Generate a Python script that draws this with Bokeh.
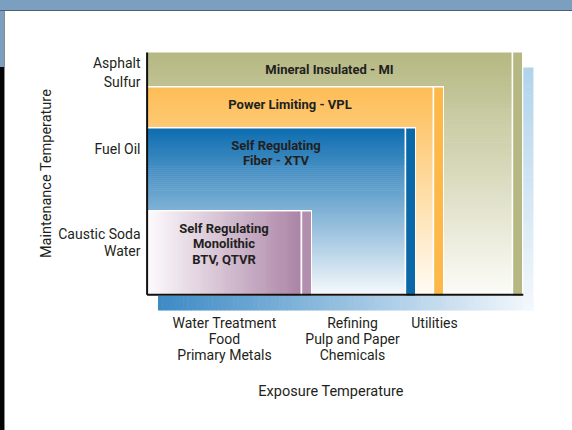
import numpy as np
from bokeh.plotting import figure
from bokeh.models import Range1d, FixedTicker, Div
from bokeh.layouts import column, row
from bokeh.core.properties import value
from bokeh.embed import file_html
from bokeh.resources import INLINE

# ---------------- data (chart units, origin at the axes corner) ----------------
products = ["Mineral Insulated - MI", "Power Limiting - VPL",
            "Self Regulating\nFiber - XTV", "Self Regulating\nMonolithic\nBTV, QTVR"]
max_exposure = [364, 285, 257, 153]        # right edge of each product's range
max_maintenance = [243, 208, 167, 84]      # top edge of each product's range

maintenance_ticks = [233, 214, 146.5, 62, 45]
maintenance_labels = ["Asphalt", "Sulfur", "Fuel Oil", "Caustic Soda", "Water"]

exposure_ticks = [77, 205, 287]
exposure_labels = ["Water Treatment\nFood\nPrimary Metals",
                   "Refining\nPulp and Paper\nChemicals",
                   "Utilities"]

# ---------------- styles ----------------
top_colors = ["#b5b882", "#fdbd55", "#0c6cb0", "#ab84a6"]
end_colors = ["#fcfcf8", "#fffcf5", "#f6f9fc", "#fdfbfd"]
strip_colors = ["#b5b882", "#fdb84a", "#0a68a8", "#b28fae"]
horizontal = [False, False, False, True]
GAP, STRIP_W, OUTLINE = 1.7, 8.8, 1.4
SH_DX, SH_DY = 10.5, 15
FONT = "Roboto"
TXT = "#231f20"


def rgb(h):
    return np.array([int(h[i:i + 2], 16) for i in (1, 3, 5)], float)


def mix(c0, c1, t):
    a, b = rgb(c0), rgb(c1)
    return "#%02x%02x%02x" % tuple(np.round(a + (b - a) * t).astype(int))


def gradient(p, x0, x1, y0, y1, c_start, c_end, horiz, n):
    """c_start at top (vertical) or left (horizontal)"""
    if horiz:
        e = np.linspace(x0, x1, n + 1)
        L = e[:-1]
        R = np.minimum(e[1:] + 0.6, x1)
        T = np.full(n, y1)
        B = np.full(n, y0)
    else:
        e = np.linspace(y1, y0, n + 1)
        T = np.minimum(e[:-1] + 0.6, y1)
        B = e[1:]
        L = np.full(n, x0)
        R = np.full(n, x1)
    cols = [mix(c_start, c_end, (i + 0.5) / n) for i in range(n)]
    p.quad(left=L, right=R, top=T, bottom=B, fill_color=cols, line_color=None)


axis_x_end = max_exposure[0] + GAP + STRIP_W + 1.3
axis_y_end = max_maintenance[0]

p = figure(width=567, height=419,
           x_range=Range1d(-19, 386), y_range=Range1d(-17, 261),
           output_backend="svg", toolbar_location=None,
           min_border_left=123, min_border_right=39,
           min_border_top=23, min_border_bottom=118)
p.grid.visible = False
p.outline_line_color = None
p.background_fill_color = "white"
p.border_fill_color = "white"

# drop shadow of the chart box
gradient(p, SH_DX, axis_x_end + SH_DX, -SH_DY, 0, "#3c8ac5", "#f4f8fc", True, 90)
gradient(p, axis_x_end, axis_x_end + SH_DX, -SH_DY, axis_y_end - SH_DY,
         "#b0d3ea", "#f4f8fc", False, 60)

# product ranges, largest first
for i in range(len(products)):
    r, t = max_exposure[i], max_maintenance[i]
    p.quad(left=[0], right=[r + GAP + STRIP_W + 1.0], top=[t + OUTLINE], bottom=[0],
           fill_color="white", line_color=None)
    if horizontal[i]:
        gradient(p, 0, r, 0, t, end_colors[i], top_colors[i], True, 80)
    else:
        gradient(p, 0, r, 0, t, top_colors[i], end_colors[i], False, int(t / 2))
    p.quad(left=[r + GAP], right=[r + GAP + STRIP_W], top=[t], bottom=[0],
           fill_color=strip_colors[i], line_color=None)

# axes lines of the box
p.segment(x0=[-0.4, -0.4], y0=[0.7, 0.7], x1=[-0.4, axis_x_end], y1=[axis_y_end, 0.7],
          line_color="#111111", line_width=2)

# product labels
p.text(x=[m / 2 for m in max_exposure], y=max_maintenance, text=products,
       text_align="center", text_baseline="top", y_offset=9.5,
       text_font=value(FONT), text_font_style="bold", text_font_size="13px",
       text_line_height=1.02, text_color=TXT)

# axes
ya = p.yaxis[0]
ya.ticker = FixedTicker(ticks=maintenance_ticks)
ya.major_label_overrides = dict(zip(maintenance_ticks, maintenance_labels))
ya.axis_label = "Maintenance Temperature"
ya.axis_label_standoff = 0

xa = p.xaxis[0]
xa.ticker = FixedTicker(ticks=exposure_ticks)
xa.major_label_overrides = dict(zip(exposure_ticks, exposure_labels))
xa.axis_label = "Exposure Temperature"
xa.axis_label_standoff = 17
xa.major_label_text_line_height = 1.03

for ax in (ya, xa):
    ax.axis_line_color = None
    ax.major_tick_line_color = None
    ax.minor_tick_line_color = None
    ax.major_tick_out = 0
    ax.major_tick_in = 0
    ax.major_label_text_font = FONT
    ax.major_label_text_font_size = "14px"
    ax.major_label_text_color = TXT
    ax.axis_label_text_font = FONT
    ax.axis_label_text_font_size = "14.5px"
    ax.axis_label_text_font_style = "normal"
    ax.axis_label_text_color = TXT
ya.major_label_standoff = -12
xa.major_label_standoff = 2

# page frame decoration: top band and left edge
top_band = Div(text="", width=572, height=11, margin=0,
               styles={"background": "linear-gradient(to bottom, #7a9fbf 0px, #7a9fbf 10px, #4c6072 10px)"})
left_edge = Div(text="", width=5, height=419, margin=0,
                styles={"background": "linear-gradient(to right, rgba(0,0,0,0) 0px, rgba(0,0,0,0) 4px, #8a8a8a 4px),"
                                      " linear-gradient(to bottom, #7a9fbf 0px, #7a9fbf 56px, #050505 56px)"})

layout = column(top_band, row(left_edge, p, spacing=0), spacing=0)
open("out.html", "w").write(file_html(layout, INLINE))
